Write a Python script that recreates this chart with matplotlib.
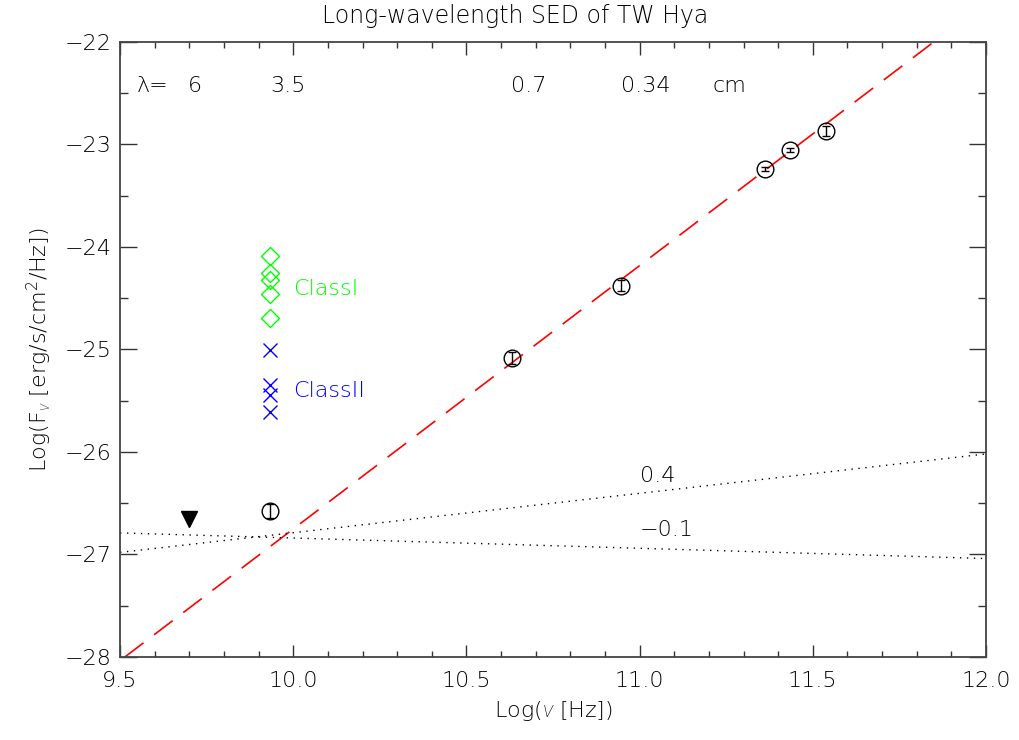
import numpy as np
import matplotlib
matplotlib.use("Agg")
import matplotlib.pyplot as plt
from matplotlib.ticker import MultipleLocator
from matplotlib import font_manager as fm

plt.rcParams['font.family'] = ['DejaVu Sans']
plt.rcParams['font.weight'] = 'light'
plt.rcParams['axes.labelweight'] = 'light'
plt.rcParams['mathtext.fontset'] = 'custom'
plt.rcParams['mathtext.rm'] = 'DejaVu Sans:weight=light'
plt.rcParams['mathtext.it'] = 'Roboto:style=italic:weight=light'

# TW Hya measured fluxes (log nu [Hz], log F_nu [erg/s/cm^2/Hz])
nu_log = [9.933, 10.631, 10.945, 11.362, 11.434, 11.537]
flux_log = [-26.577, -25.083, -24.379, -23.24, -23.055, -22.867]
flux_err = [0.065, 0.06, 0.055, 0.02, 0.02, 0.05]

# 6 cm upper limit
limit_nu = [9.70]
limit_flux = [-26.657]

# comparison objects at 3.5 cm
class1_nu = [9.933] * 5
class1_flux = [-24.087, -24.255, -24.32, -24.46, -24.69]
class2_nu = [9.933] * 4
class2_flux = [-25.01, -25.35, -25.45, -25.615]

# dust fit line (red dashed)
fit_nu = [9.514, 11.85]
fit_flux = [-28.0, -22.0]

# free-free power laws (dotted)
pl_nu = [9.5, 12.0]
pl_04_flux = [-26.98, -26.02]
pl_m01_flux = [-26.79, -27.04]

# wavelength labels along the top
wl_labels = ['6', '3.5', '0.7', '0.34', 'cm']
wl_pos = [9.696, 9.933, 10.63, 10.946, 11.21]

fig = plt.figure(figsize=(10.19, 7.40), dpi=100)
ax = fig.add_axes([0.1178, 0.1122, 0.8498, 0.8314])

ax.plot(fit_nu, fit_flux, color='red', lw=1.2, dashes=(14, 8))
ax.plot(pl_nu, pl_04_flux, color='black', lw=1.0, linestyle=(0, (1, 4)))
ax.plot(pl_nu, pl_m01_flux, color='black', lw=1.0, linestyle=(0, (1, 4)))

ax.errorbar(nu_log, flux_log, yerr=flux_err, fmt='none', ecolor='black',
            elinewidth=1.0, capsize=3, capthick=1.0)
ax.plot(nu_log, flux_log, 'o', mfc='none', mec='black', ms=12, mew=1.0)

ax.plot(limit_nu, limit_flux, 'v', color='black', ms=11)

ax.plot(class1_nu, class1_flux, 'D', mfc='none', mec='#00ff00', ms=9.2, mew=1.0)
ax.plot(class2_nu, class2_flux, 'x', color='#0000ff', ms=10, mew=1.0)

ax.text(9.999, -24.41, 'ClassI', color='#00ff00', fontsize=16, va='center', ha='left')
ax.text(9.999, -25.41, 'ClassII', color='#0000ff', fontsize=16, va='center', ha='left')

ax.text(11.001, -26.235, '0.4', fontsize=16, va='center', ha='left')
ax.text(11.001, -26.76, '\u22120.1', fontsize=16, va='center', ha='left')

ax.text(9.549, -22.436, '\u03bb=', fontsize=16, va='center', ha='left')
for lab, xp in zip(wl_labels, wl_pos):
    ax.text(xp, -22.436, lab, fontsize=16, va='center', ha='left')

ax.set_xlim(9.5, 12.0)
ax.set_ylim(-28, -22)
ax.xaxis.set_major_locator(MultipleLocator(0.5))
ax.xaxis.set_minor_locator(MultipleLocator(0.1))
ax.yaxis.set_major_locator(MultipleLocator(1))
ax.yaxis.set_minor_locator(MultipleLocator(0.5))
ax.xaxis.set_major_formatter(plt.FuncFormatter(lambda v, p: f'{v:.1f}'))
ax.yaxis.set_major_formatter(plt.FuncFormatter(lambda v, p: f'\u2212{abs(v):.0f}'))

ax.tick_params(axis='both', which='both', direction='in', top=True, right=True,
               labelsize=16, color='#333333')
ax.tick_params(axis='x', which='major', length=9, width=1.0, pad=10)
ax.tick_params(axis='x', which='minor', length=4.5, width=1.0)
ax.tick_params(axis='y', which='major', length=12.5, width=1.0, pad=6)
ax.tick_params(axis='y', which='minor', length=6, width=1.0)
for s in ax.spines.values():
    s.set_color('#444444')
    s.set_linewidth(1.3)

ax.set_xlabel(r'Log($\nu$ [Hz])', fontsize=16, labelpad=6, fontweight='light')
ax.set_ylabel(r'Log(F$_\nu$ [erg/s/cm$^2$/Hz])', fontsize=16, labelpad=8,
              fontweight='light')

fig.text(0.506, 0.978, 'Long-wavelength SED of TW Hya', fontsize=17,
         ha='center', va='center')

fig.savefig('out.png', dpi=100)
